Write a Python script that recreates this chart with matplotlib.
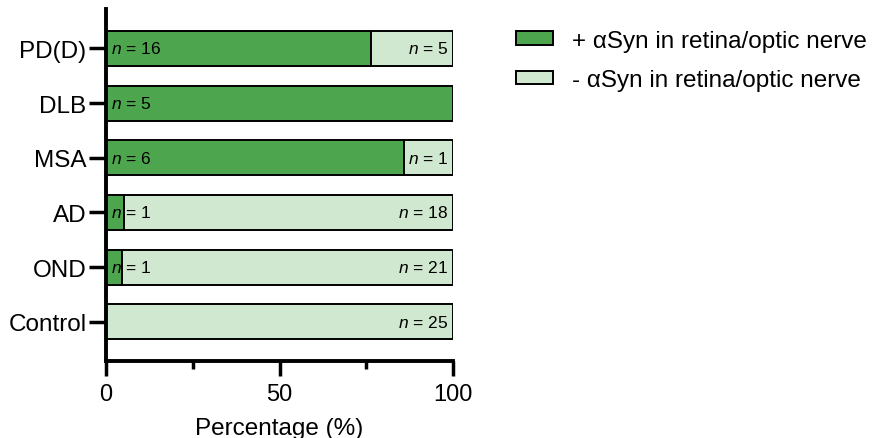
import numpy as np
from matplotlib import pyplot as plt

plt.rcParams['font.family'] = ['Liberation Sans', 'DejaVu Sans']
plt.rcParams['mathtext.fontset'] = 'custom'
plt.rcParams['mathtext.rm'] = 'Liberation Sans'
plt.rcParams['mathtext.it'] = 'Liberation Sans:italic'

groups = ['PD(D)', 'DLB', 'MSA', 'AD', 'OND', 'Control']
n_pos = [16, 5, 6, 1, 1, 0]
n_neg = [5, 0, 1, 18, 21, 25]

dark = '#4da64e'
light = '#d0e7d0'

pos = np.array(n_pos)
neg = np.array(n_neg)
pct_pos = 100 * pos / (pos + neg)
pct_neg = 100 - pct_pos
y = np.arange(len(groups))

fig = plt.figure(figsize=(8.75, 4.39), dpi=100)
ax = fig.add_axes([0.121, 0.175, 0.397, 0.802])

ax.barh(y, pct_pos, height=0.64, color=dark, edgecolor='black', linewidth=1.4,
        label='+ αSyn in retina/optic nerve')
ax.barh(y, pct_neg, left=pct_pos, height=0.64, color=light, edgecolor='black', linewidth=1.4,
        label='- αSyn in retina/optic nerve')

# n counts inside the bars, left for positive, right for negative
for i in range(len(groups)):
    if n_pos[i] > 0:
        ax.text(1.5, y[i], r'$n$ = %d' % n_pos[i], va='center', ha='left', fontsize=12.5)
    if n_neg[i] > 0:
        ax.text(98.5, y[i], r'$n$ = %d' % n_neg[i], va='center', ha='right', fontsize=12.5)

ax.set_ylim(len(groups) - 0.28, -0.72)
ax.set_xlim(0, 100)
ax.set_yticks(y)
ax.set_yticklabels(groups, fontsize=17.5)
ax.set_xticks([0, 50, 100])
ax.set_xticks([25, 75], minor=True)
ax.tick_params(axis='x', which='major', length=11, width=2.5, labelsize=17, pad=5)
ax.tick_params(axis='x', which='minor', length=6, width=2.5)
ax.tick_params(axis='y', length=12, width=2.5, pad=2)
ax.set_xlabel('Percentage (%)', fontsize=17.5, labelpad=8)

for side in ['top', 'right']:
    ax.spines[side].set_visible(False)
for side in ['left', 'bottom']:
    ax.spines[side].set_linewidth(2.8)
ax.spines['bottom'].set_bounds(0, 100)

fig.legend(loc='upper left', bbox_to_anchor=(0.565, 0.98), frameon=False, fontsize=17.5,
           handlelength=1.5, handleheight=0.45, handletextpad=0.8, labelspacing=0.72)

fig.savefig('out.png', dpi=100)
